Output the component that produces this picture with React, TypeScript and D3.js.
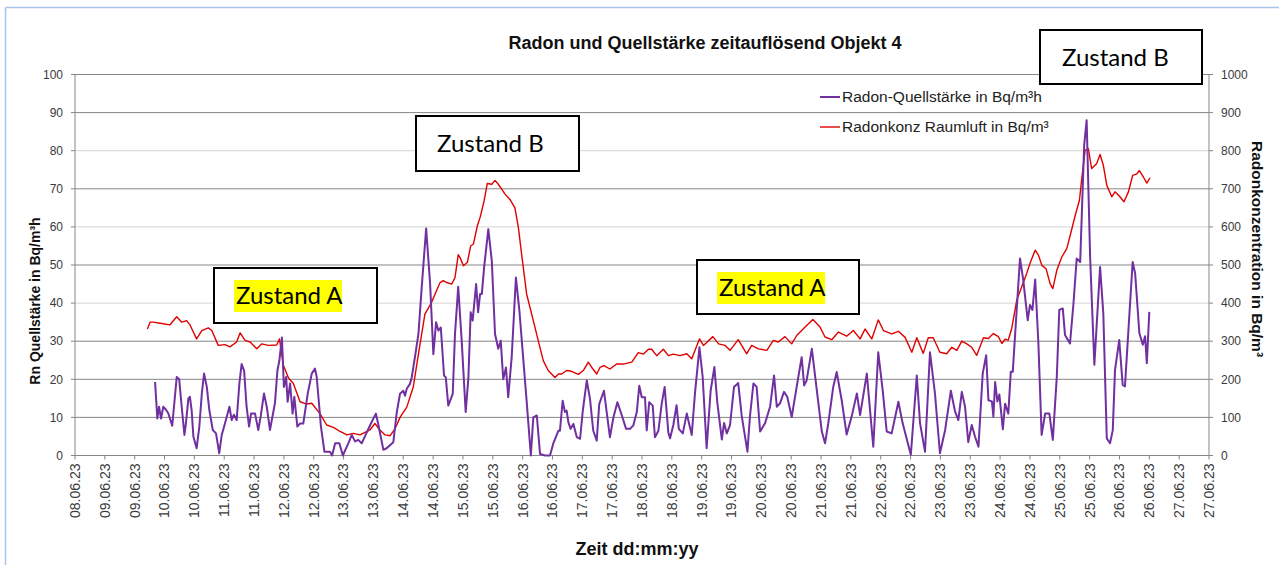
import React from 'react';
import * as d3 from 'd3';

// hours after 09.06.23 00:00, Bq/m³h
const quellstaerke: [number, number][] = [
  [20.2, 19.3], [21.1, 9.7], [21.8, 12.8], [22.6, 9.7], [23.5, 12.8], [24.6, 12], [25.5, 11.1], [27.1, 7.8],
  [28.9, 20.6], [29.9, 20], [30.9, 12.8], [32.0, 5.4], [32.6, 8.4], [33.6, 15], [34.2, 15.4], [34.9, 11.9],
  [35.6, 5], [36.9, 1.9], [38.0, 7.6], [39.0, 16.3], [39.9, 21.5], [41.0, 18], [42.0, 12], [43.4, 6.7],
  [44.7, 5.8], [46.0, 0.6], [47.0, 5.4], [48.3, 8.4], [50.1, 12.8], [51.0, 9.3], [51.9, 10.7], [53.0, 9.3],
  [54.1, 18.9], [55.0, 24], [56.0, 22.3], [57.0, 12.8], [58.0, 7.6], [58.8, 11], [60.4, 11], [61.7, 6.7],
  [62.7, 10.4], [64.0, 16.3], [65.1, 12.8], [66.4, 6.7], [68.4, 13.7], [69.4, 22.3], [70.2, 25], [71.2, 31],
  [72.0, 18], [72.9, 20.6], [73.5, 14.1], [74.5, 18.9], [75.5, 11], [76.2, 15.4], [77.4, 7.6], [78.5, 8.4],
  [79.8, 8.4], [81.6, 16.3], [83.2, 21.5], [84.5, 22.8], [85.2, 20.6], [86.9, 7.6], [88.3, 1], [90.5, 1],
  [91.4, 0], [92.6, 3.2], [94.3, 3.2], [95.7, 0], [97.9, 3.2], [99.3, 5.4], [100.6, 3.7], [101.9, 4.1],
  [103.3, 3.2], [104.2, 4.5], [107.0, 8.4], [109.0, 11], [110.0, 8], [112.0, 1.5], [113.3, 1.9], [116.0, 3.5],
  [117.4, 11.4], [118.7, 16.2], [120.0, 17], [120.7, 15.7], [121.4, 17.5], [122.7, 18.8], [123.4, 20.5], [124.7, 25.8],
  [126.1, 31.9], [127.4, 44], [129.2, 59.6], [130.8, 45], [132.1, 26.6], [133.2, 35], [134.1, 32.8], [135.1, 33.6],
  [136.4, 21], [137.1, 20.5], [138.1, 13.1], [139.9, 16.2], [140.8, 31.9], [142.1, 44.3], [143.5, 30.1], [145.1, 11.4],
  [146.2, 20.5], [147.1, 37.6], [147.9, 35.4], [149.3, 45], [150.1, 37.6], [150.9, 42.4], [151.6, 42.4], [152.5, 49.3],
  [154.2, 59.4], [155.6, 51.1], [156.9, 31.9], [158.2, 28], [159.2, 30.1], [160.2, 20], [161.3, 23.1], [162.2, 15.3],
  [163.6, 25.8], [165.3, 46.7], [166.7, 38], [169.6, 14.4], [171.3, 0], [172.3, 10], [173.7, 10.5], [175.0, 0.4],
  [177.0, 0], [179.0, 0], [180.3, 3.1], [182.4, 6.5], [183.0, 6.5], [184.1, 14.4], [185.0, 11.4], [185.7, 11.8],
  [186.4, 8.7], [187.3, 7], [188.4, 8.3], [189.8, 4.8], [191.1, 4.4], [192.2, 11.8], [193.8, 19.7], [195.1, 14.8],
  [196.4, 6.5], [197.8, 3.9], [198.8, 13.5], [200.7, 17], [201.8, 11.4], [203.1, 4.8], [204.5, 10], [206.1, 14],
  [207.9, 10.5], [209.6, 7], [211.2, 7], [212.5, 7.9], [213.9, 11.4], [214.9, 18.3], [215.9, 15.3], [217.2, 15.3],
  [217.9, 6.6], [218.9, 14], [220.3, 13.1], [221.2, 4.8], [222.6, 6.5], [223.9, 13.5], [225.1, 18], [226.6, 6],
  [227.3, 4.5], [228.6, 8], [229.9, 13.2], [230.8, 7], [232.4, 5.8], [234.0, 11], [236.0, 5.4], [237.3, 16.3],
  [239.1, 28.4], [240.4, 20.6], [242.0, 1.9], [243.6, 17], [245.1, 23.2], [246.3, 13.8], [248.1, 4.2], [249.0, 8.5],
  [250.1, 5.8], [251.4, 8], [253.0, 18], [254.7, 19], [256.1, 10.4], [258.4, 1], [259.4, 10.2], [260.8, 18.9],
  [262.1, 18], [263.5, 6.3], [265.5, 8.5], [267.5, 12.8], [269.1, 21], [270.2, 12.8], [271.5, 13.7], [273.1, 16.7],
  [274.4, 15.4], [276.2, 10.1], [278.2, 18], [280.2, 25.8], [281.2, 18.4], [282.2, 19.7], [284.3, 28], [286.3, 17.1],
  [288.3, 6.3], [289.6, 3.2], [290.9, 8.4], [292.9, 18], [294.3, 21.9], [296.3, 14.5], [298.3, 5.5], [300.3, 10.2],
  [302.4, 16.3], [303.7, 10.6], [306.4, 21.5], [309.0, 2.3], [311.0, 27.1], [312.8, 17], [314.4, 6.3], [316.4, 5.8],
  [319.1, 14.1], [320.8, 8.5], [324.1, 0.2], [326.5, 21], [327.8, 8.5], [329.8, 1], [331.8, 27.1], [333.8, 16.3],
  [335.8, 0.6], [337.9, 6.7], [340.2, 17], [341.9, 11.5], [343.2, 9.3], [344.6, 16.7], [345.9, 12.8], [347.2, 3.5],
  [348.6, 8], [349.9, 5], [351.3, 2.3], [353.0, 21.5], [354.4, 26.3], [355.3, 14.5], [356.7, 14.2], [357.3, 10.2],
  [358.0, 19.3], [358.9, 14.2], [359.7, 16], [361.1, 6.9], [362.0, 13.6], [363.3, 11], [364.3, 22], [365.1, 22],
  [366.4, 35.5], [368.0, 51.7], [369.3, 46.1], [371.1, 35.5], [372.0, 39.5], [373.0, 38.2], [374.1, 46.2], [375.4, 29.4],
  [376.7, 5.4], [378.1, 11], [379.8, 11], [381.2, 4.1], [382.8, 20.7], [383.8, 38.2], [385.2, 38.6], [386.1, 31.6],
  [388.1, 29.4], [389.5, 39.9], [390.8, 51.7], [392.2, 50.8], [393.8, 81.4], [394.8, 88], [396.2, 52.1], [397.9, 23.8],
  [400.2, 49.5], [401.5, 37.3], [402.9, 4.5], [404.2, 3.2], [405.3, 6.6], [406.2, 22.4], [407.9, 30.3], [409.3, 18.5],
  [410.2, 18.1], [411.6, 32.9], [413.3, 50.8], [414.3, 47.8], [416.0, 32.1], [417.4, 29.1], [418.3, 31.3], [419.0, 24.2],
  [420.0, 37.7],
];

// hours after 09.06.23 00:00, Bq/m³
const raumluft: [number, number][] = [
  [17.1, 332], [18.2, 350], [19.5, 350], [22.2, 347], [26.2, 343], [28.9, 364], [30.9, 350], [32.9, 354],
  [34.2, 343], [36.9, 306], [39.0, 328], [41.6, 335], [43.0, 328], [45.6, 289], [48.3, 291], [50.3, 285],
  [53.0, 298], [54.4, 322], [56.4, 302], [58.4, 298], [61.1, 280], [63.1, 293], [65.7, 289], [69.1, 290],
  [70.2, 306], [71.8, 237], [73.8, 204], [75.8, 189], [78.5, 141], [81.2, 135], [83.2, 137], [86.5, 110],
  [89.2, 80], [91.9, 74], [94.6, 63], [97.3, 54], [99.9, 58], [102.6, 54], [106.6, 67], [108.6, 84],
  [110.6, 67], [112.7, 54], [114.7, 52], [116.7, 70], [118.7, 100], [121.4, 127], [124.0, 179], [126.1, 266],
  [128.7, 371], [131.4, 402], [132.8, 424], [134.8, 454], [136.1, 459], [137.5, 454], [139.5, 450], [140.8, 467],
  [142.1, 527], [142.8, 520], [144.2, 498], [145.8, 507], [147.1, 550], [148.2, 555], [149.8, 603], [150.9, 625],
  [152.5, 668], [153.8, 714], [155.6, 712], [156.9, 722], [158.2, 712], [159.6, 699], [160.9, 686], [162.9, 672],
  [164.9, 650], [166.3, 598], [167.6, 528], [169.6, 424], [172.3, 354], [174.3, 301], [176.3, 249], [178.3, 223],
  [181.0, 205], [182.4, 214], [183.7, 214], [185.7, 223], [187.7, 221], [190.4, 213], [192.4, 223], [194.4, 245],
  [195.8, 231], [197.8, 214], [199.1, 231], [200.7, 236], [203.1, 227], [205.8, 240], [208.5, 240], [211.9, 245],
  [214.5, 270], [216.5, 266], [218.6, 279], [219.9, 279], [221.9, 262], [224.6, 279], [226.6, 262], [228.6, 266],
  [231.3, 262], [234.0, 267], [236.0, 254], [239.1, 306], [240.7, 289], [244.5, 312], [246.8, 293], [249.4, 289],
  [251.4, 276], [254.7, 304], [258.1, 267], [260.1, 289], [262.8, 280], [266.2, 276], [268.8, 302], [270.8, 298],
  [273.5, 312], [276.2, 293], [278.2, 315], [282.2, 341], [284.7, 357], [287.6, 337], [289.6, 311], [292.3, 304],
  [295.0, 324], [298.3, 313], [301.0, 328], [303.7, 306], [305.7, 332], [308.4, 306], [311.0, 356], [313.1, 328],
  [316.4, 319], [319.1, 326], [321.8, 310], [324.5, 271], [326.5, 309], [329.1, 268], [331.1, 309], [333.1, 309],
  [335.8, 271], [338.5, 267], [340.6, 284], [342.6, 276], [344.6, 300], [346.6, 293], [348.6, 284], [350.6, 263],
  [353.3, 309], [355.3, 307], [357.3, 320], [359.3, 312], [360.7, 294], [362.0, 305], [363.3, 303], [364.7, 334],
  [366.7, 408], [368.7, 443], [370.7, 478], [372.0, 504], [374.1, 539], [375.4, 526], [376.8, 499], [378.5, 490],
  [380.1, 451], [381.2, 438], [382.8, 486], [384.8, 521], [386.8, 543], [388.2, 578], [390.2, 630], [391.9, 670],
  [392.9, 731], [394.2, 801], [395.5, 805], [396.8, 753], [398.8, 766], [400.2, 790], [401.5, 762], [402.9, 709],
  [404.9, 679], [406.2, 692], [408.2, 679], [409.8, 666], [411.6, 692], [413.3, 735], [415.0, 739], [416.0, 748],
  [417.6, 731], [419.0, 715], [420.3, 729],
];

const leftTicks = [0, 10, 20, 30, 40, 50, 60, 70, 80, 90, 100];
const rightTicks = [0, 100, 200, 300, 400, 500, 600, 700, 800, 900, 1000];

const seriesNames = ['Radon-Quellstärke in Bq/m³h', 'Radonkonz Raumluft in Bq/m³'];
const seriesColors = ['#7030a0', '#e00000'];

const title = 'Radon und Quellstärke zeitauflösend Objekt 4';
const xTitle = 'Zeit dd:mm:yy';
const yLeftTitle = 'Rn Quellstärke in Bq/m³h';
const yRightTitle = 'Radonkonzentration in Bq/m³';

// annotation boxes: text and whether it is highlighted
const notes: { text: string; mark: boolean }[] = [
  { text: 'Zustand A', mark: true },
  { text: 'Zustand B', mark: false },
  { text: 'Zustand A', mark: true },
  { text: 'Zustand B', mark: false },
];
const noteBoxes = [
  { x: 214, y: 268, w: 163, h: 55, tx: 236, ty: 304 },
  { x: 416, y: 116, w: 163, h: 55, tx: 437, ty: 152 },
  { x: 697, y: 260, w: 162, h: 54, tx: 719, ty: 296 },
  { x: 1040, y: 30, w: 162, h: 54, tx: 1062, ty: 66 },
];

const W = 1279;
const H = 565;
const m = { left: 75, right: 1209, top: 74.5, bottom: 455.5 };
const font = '"Liberation Sans", Arial, sans-serif';

const t0 = new Date(2023, 5, 9, 0, 0).getTime();
const toDate = (h: number) => new Date(t0 + h * 3600000);

const App: React.FC = () => {
  const x = d3.scaleTime()
    .domain([new Date(2023, 5, 8, 12), new Date(2023, 5, 27, 12)])
    .range([m.left, m.right]);
  const yL = d3.scaleLinear().domain([0, 100]).range([m.bottom, m.top]);
  const yR = d3.scaleLinear().domain([0, 1000]).range([m.bottom, m.top]);

  const xTicks = x.ticks(d3.timeHour.every(12)!);
  const fmt = d3.timeFormat('%d.%m.%y');

  const lineL = d3.line<[number, number]>()
    .x(d => x(toDate(d[0])))
    .y(d => yL(d[1]));
  const lineR = d3.line<[number, number]>()
    .x(d => x(toDate(d[0])))
    .y(d => yR(d[1]));

  const axisColor = '#868686';
  const labelColor = '#3a3a3a';

  return (
    <svg width={W} height={H} style={{ position: 'absolute', left: 0, top: 0, background: '#fff' }}
      fontFamily={font}>
      <rect x={0} y={0} width={W} height={H} fill="#fff" />
      {/* outer frame */}
      <line x1={5.5} x2={W} y1={7.5} y2={7.5} stroke="#a9c4ea" strokeWidth={1.5} />
      <line x1={5.5} x2={5.5} y1={7.5} y2={H} stroke="#a9c4ea" strokeWidth={1.5} />

      <text x={705} y={49} textAnchor="middle" fontSize={18} fontWeight="bold" fill="#111">{title}</text>

      {/* gridlines, the 40/60/80 ones render lighter in the original */}
      {leftTicks.filter(v => v > 0).map(v => (
        <line key={'g' + v} x1={m.left} x2={m.right} y1={yL(v)} y2={yL(v)}
          stroke={v === 40 || v === 60 || v === 80 ? '#d4d4d4' : axisColor} strokeWidth={1} />
      ))}

      {/* axes */}
      <line x1={m.left} x2={m.left} y1={m.top} y2={m.bottom} stroke={axisColor} />
      <line x1={m.right} x2={m.right} y1={m.top} y2={m.bottom} stroke={axisColor} />
      <line x1={m.left} x2={m.right} y1={m.bottom} y2={m.bottom} stroke={axisColor} />

      {leftTicks.map(v => (
        <g key={'l' + v}>
          <line x1={m.left - 4} x2={m.left} y1={yL(v)} y2={yL(v)} stroke={axisColor} />
          <text x={m.left - 12} y={yL(v)} dy="0.35em" textAnchor="end" fontSize={12} fill={labelColor}>{v}</text>
        </g>
      ))}
      {rightTicks.map(v => (
        <g key={'r' + v}>
          <line x1={m.right} x2={m.right + 4} y1={yR(v)} y2={yR(v)} stroke={axisColor} />
          <text x={m.right + 12} y={yR(v)} dy="0.35em" textAnchor="start" fontSize={12} fill={labelColor}>{v}</text>
        </g>
      ))}
      {xTicks.map((d, i) => (
        <g key={'x' + i}>
          <line x1={x(d)} x2={x(d)} y1={m.bottom} y2={m.bottom + 4} stroke={axisColor} />
          <text transform={`translate(${x(d)},${m.bottom + 8}) rotate(-90)`} dy="0.35em" textAnchor="end"
            fontSize={14} fill={labelColor}>{fmt(d)}</text>
        </g>
      ))}

      <text transform="translate(40,301) rotate(-90)" textAnchor="middle" fontSize={14} fontWeight="bold" fill="#111">
        {yLeftTitle}
      </text>
      <text transform="translate(1252,249) rotate(90)" textAnchor="middle" fontSize={15.5} fontWeight="bold" fill="#111">
        {yRightTitle}
      </text>
      <text x={637} y={555} textAnchor="middle" fontSize={18} fontWeight="bold" fill="#111">{xTitle}</text>

      {/* series */}
      <path d={lineR(raumluft) || ''} fill="none" stroke={seriesColors[1]} strokeWidth={1.4} strokeLinejoin="round" />
      <path d={lineL(quellstaerke) || ''} fill="none" stroke={seriesColors[0]} strokeWidth={2} strokeLinejoin="round" />

      {/* legend */}
      {seriesNames.map((n, i) => (
        <g key={'lg' + i} transform={`translate(820,${97 + i * 30})`}>
          <line x1={0} x2={20} y1={0} y2={0} stroke={seriesColors[i]} strokeWidth={i === 0 ? 2 : 1.4} />
          <text x={22} y={0} dy="0.35em" fontSize={15.5} fill="#222">{n}</text>
        </g>
      ))}

      {/* annotations */}
      {notes.map((n, i) => {
        const b = noteBoxes[i];
        return (
          <g key={'n' + i}>
            <rect x={b.x} y={b.y} width={b.w} height={b.h} fill="#fff" stroke="#000" strokeWidth={2} />
            {n.mark && <rect x={b.tx - 2} y={b.ty - 24} width={108} height={32} fill="#ffff00" />}
            <text x={b.tx} y={b.ty} fontSize={24} fontFamily="Lato, 'Open Sans', sans-serif" fill="#000">{n.text}</text>
          </g>
        );
      })}
    </svg>
  );
};

export default App;
